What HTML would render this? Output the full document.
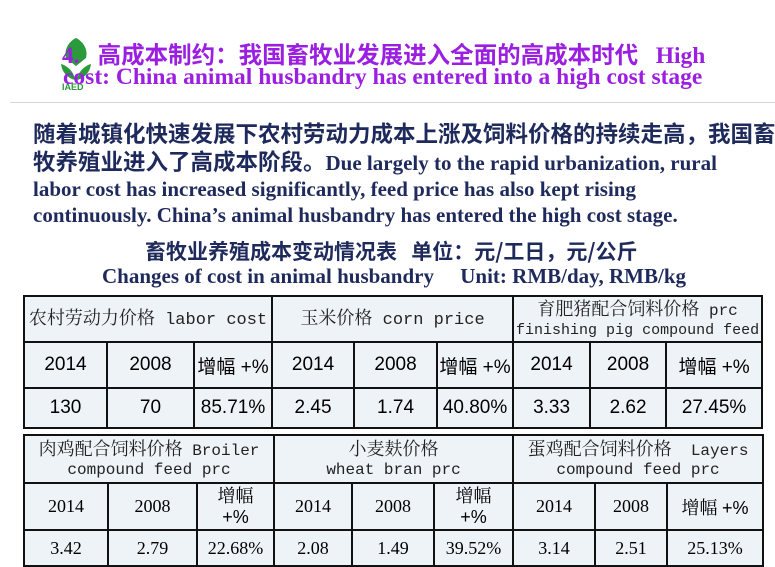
<!DOCTYPE html>
<html><head><meta charset="utf-8"><style>
body{margin:0;width:775px;height:567px;background:#fff;position:relative;overflow:hidden;font-family:"Liberation Serif","Noto Sans CJK SC",serif}
.t{position:absolute;white-space:nowrap}
.title{color:#9b1fe0;font-weight:bold;font-size:23.5px}
.para{color:#1f2a5c;font-weight:bold;font-size:21px;left:33px;line-height:26px}
.c{font-size:22.5px;font-family:"Noto Sans CJK SC",sans-serif;font-weight:bold}
table{position:absolute;border-collapse:collapse;background:#eef3f8;table-layout:fixed}
td{border:2px solid #111;text-align:center;padding:0;white-space:nowrap;overflow:hidden}
.a td{font-family:"Liberation Sans","Noto Sans CJK SC",sans-serif;font-size:19px}
.h td{font-family:"Liberation Mono","Noto Serif CJK SC",monospace;font-size:16px;line-height:19px;color:#222}
.b td{font-family:"Liberation Serif","Noto Serif CJK SC",serif;font-size:18px}
.cn{font-family:"Noto Sans CJK SC",sans-serif}
.cs{font-family:"Noto Serif CJK SC",serif}
</style></head><body>
<svg class="t" style="left:58px;top:36px" width="36" height="56" viewBox="0 0 36 56">
<path d="M18 2 C26 6 30 14 28 22 L18 30 L8 22 C6 14 10 6 18 2Z" fill="#2a9a3a"/>
<path d="M3 28 C10 30 16 36 17 44 C9 42 4 36 3 28Z" fill="#2a9a3a"/>
<path d="M33 28 C26 30 20 36 19 44 C27 42 32 36 33 28Z" fill="#2a9a3a"/>
<text x="4" y="54" font-size="9" font-weight="bold" fill="#2a9a3a" font-family="Liberation Sans">IAED</text>
</svg>
<div class="t title" style="left:62px;top:36px">4.<span style="display:inline-block;width:18px"></span><span style="font-family:'Noto Sans CJK SC';font-size:23.5px">高成本制约：我国畜牧业发展进入全面的高成本时代</span>&nbsp;&nbsp;&nbsp;High</div>
<div class="t title" style="left:63px;top:64px">cost: China animal husbandry has entered into a high cost stage</div>
<div class="t" style="left:10px;top:102px;width:765px;height:1px;background:#d6d6d6"></div>
<div class="t para" style="top:120px"><span class="c">随着城镇化快速发展下农村劳动力成本上涨及饲料价格的持续走高，我国畜</span><br><span class="c">牧养殖业进入了高成本阶段。</span>Due largely to the rapid urbanization, rural<br>labor cost has increased significantly, feed price has also kept rising<br>continuously. China’s animal husbandry has entered the high cost stage.</div>
<div class="t para" style="left:145px;top:238px;font-size:21px"><span class="c" style="font-size:21px">畜牧业养殖成本变动情况表&nbsp;&nbsp;&nbsp;单位：元/工日，元/公斤</span></div>
<div class="t para" style="left:102px;top:263px;font-size:21px">Changes of cost in animal husbandry&nbsp;&nbsp;&nbsp;&nbsp;&nbsp;Unit: RMB/day, RMB/kg</div>

<table style="left:23px;top:295px;width:738px">
<colgroup><col style="width:83px"><col style="width:87px"><col style="width:78px"><col style="width:82px"><col style="width:83px"><col style="width:76px"><col style="width:77px"><col style="width:76px"><col style="width:96px"></colgroup>
<tr class="h" style="height:46px"><td colspan="3" style="font-size:17px"><span class="cs" style="font-size:18px">农村劳动力价格</span> labor cost</td><td colspan="3" style="font-size:17px"><span class="cs" style="font-size:18px">玉米价格</span> corn price</td><td colspan="3"><span class="cs" style="font-size:18px">育肥猪配合饲料价格</span> prc<br><span style="font-size:15px">finishing pig compound feed</span></td></tr>
<tr class="a" style="height:46px"><td>2014</td><td>2008</td><td>增幅 +%</td><td>2014</td><td>2008</td><td>增幅 +%</td><td>2014</td><td>2008</td><td>增幅 +%</td></tr>
<tr class="a" style="height:40px"><td>130</td><td>70</td><td>85.71%</td><td>2.45</td><td>1.74</td><td>40.80%</td><td>3.33</td><td>2.62</td><td>27.45%</td></tr>
</table>

<table style="left:23px;top:434px;width:739px">
<colgroup><col style="width:84px"><col style="width:89px"><col style="width:77px"><col style="width:78px"><col style="width:82px"><col style="width:79px"><col style="width:82px"><col style="width:72px"><col style="width:96px"></colgroup>
<tr class="h" style="height:48px"><td colspan="3"><span class="cs" style="font-size:18px">肉鸡配合饲料价格</span> Broiler<br>compound feed prc</td><td colspan="3"><span class="cs" style="font-size:18px">小麦麸价格</span><br>wheat bran prc</td><td colspan="3"><span class="cs" style="font-size:18px">蛋鸡配合饲料价格</span>&nbsp; Layers<br>compound feed prc</td></tr>
<tr class="b" style="height:47px"><td>2014</td><td>2008</td><td class="cn" style="line-height:21px">增幅<br><span style="font-family:Liberation Sans">+%</span></td><td>2014</td><td>2008</td><td class="cn" style="line-height:21px">增幅<br><span style="font-family:Liberation Sans">+%</span></td><td>2014</td><td>2008</td><td class="cn">增幅 <span style="font-family:Liberation Sans">+%</span></td></tr>
<tr class="b" style="height:36px"><td>3.42</td><td>2.79</td><td>22.68%</td><td>2.08</td><td>1.49</td><td>39.52%</td><td>3.14</td><td>2.51</td><td>25.13%</td></tr>
</table>
</body></html>
